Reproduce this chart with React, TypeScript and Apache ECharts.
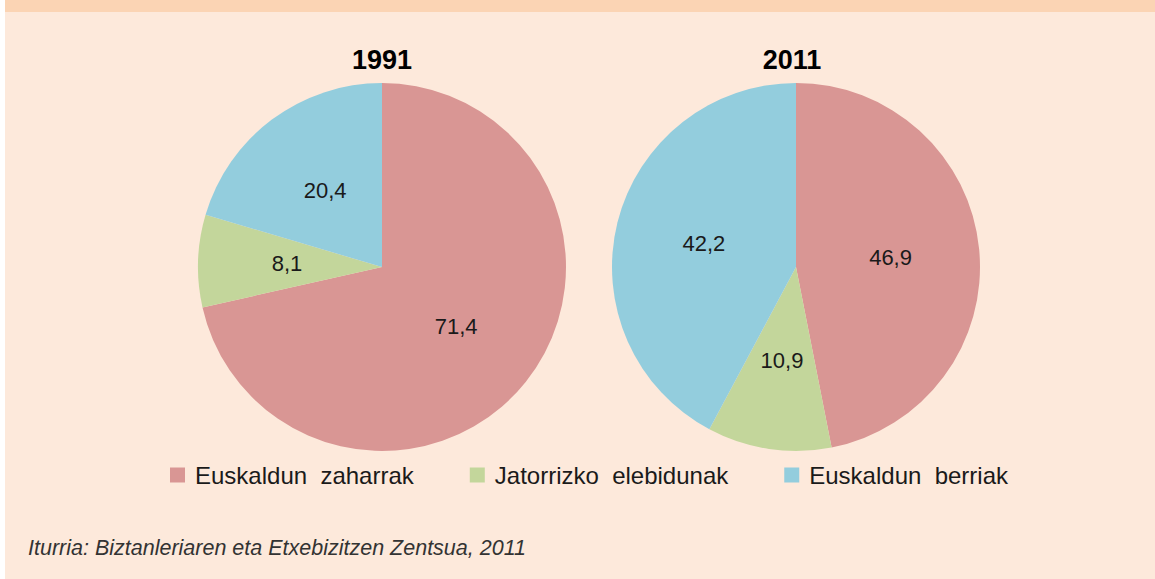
import React, { useEffect, useRef } from "react";
import * as echarts from "echarts";

const CATEGORIES = ["Euskaldun  zaharrak", "Jatorrizko  elebidunak", "Euskaldun  berriak"];
const COLORS = ["#d99694", "#c3d69b", "#93cddd"];
const YEARS = ["1991", "2011"];
const VALUES_1991 = [71.4, 8.1, 20.4];
const VALUES_2011 = [46.9, 10.9, 42.2];
const SOURCE = "Iturria: Biztanleriaren eta Etxebizitzen Zentsua, 2011";

const FONT = "'Liberation Sans', Arial, sans-serif";

export default function App() {
  const ref = useRef<HTMLDivElement>(null);
  useEffect(() => {
    if (!ref.current) return;
    const chart = echarts.init(ref.current, null, { renderer: "svg" });
    const makeSeries = (name: string, values: number[], cx: number) => ({
      type: "pie",
      name,
      center: [cx, 267],
      radius: [0, 184],
      startAngle: 90,
      clockwise: true,
      silent: true,
      label: {
        show: true,
        position: "inside",
        fontFamily: FONT,
        fontSize: 22,
        color: "#1a1a1a",
        formatter: (p: any) => String(p.value).replace(".", ","),
      },
      labelLine: { show: false },
      itemStyle: { borderWidth: 0 },
      data: CATEGORIES.map((c, i) => ({
        name: c,
        value: values[i],
        itemStyle: { color: COLORS[i] },
      })),
    });
    chart.setOption({
      animation: false,
      backgroundColor: "#fde9db",
      title: [
        {
          text: YEARS[0],
          left: 377,
          top: 41,
          textAlign: "center",
          textStyle: { fontFamily: FONT, fontSize: 27, fontWeight: "bold", color: "#000" },
        },
        {
          text: YEARS[1],
          left: 787,
          top: 41,
          textAlign: "center",
          textStyle: { fontFamily: FONT, fontSize: 27, fontWeight: "bold", color: "#000" },
        },
      ],
      legend: {
        data: CATEGORIES,
        left: 165,
        top: 458,
        icon: "rect",
        itemWidth: 15,
        itemHeight: 15,
        itemGap: 56,
        selectedMode: false,
        textStyle: {
          fontFamily: FONT,
          fontSize: 24,
          color: "#1a1a1a",
          padding: [0, 0, 0, 5],
        },
      },
      graphic: [
        {
          type: "rect",
          shape: { x: 0, y: 0, width: 1155, height: 12 },
          style: { fill: "#fbd4b4" },
          silent: true,
        },
        {
          type: "rect",
          shape: { x: 0, y: 0, width: 5, height: 579 },
          style: { fill: "#ffffff" },
          silent: true,
        },
        {
          type: "text",
          x: 28,
          y: 548,
          style: {
            text: SOURCE,
            font: `italic 21.5px ${FONT}`,
            fill: "#333333",
            textVerticalAlign: "middle",
          },
          silent: true,
        },
      ],
      series: [makeSeries(YEARS[0], VALUES_1991, 382), makeSeries(YEARS[1], VALUES_2011, 796)],
    });
    return () => chart.dispose();
  }, []);
  return (
    <div
      ref={ref}
      style={{ position: "absolute", left: 0, top: 0, width: 1155, height: 579 }}
    />
  );
}
